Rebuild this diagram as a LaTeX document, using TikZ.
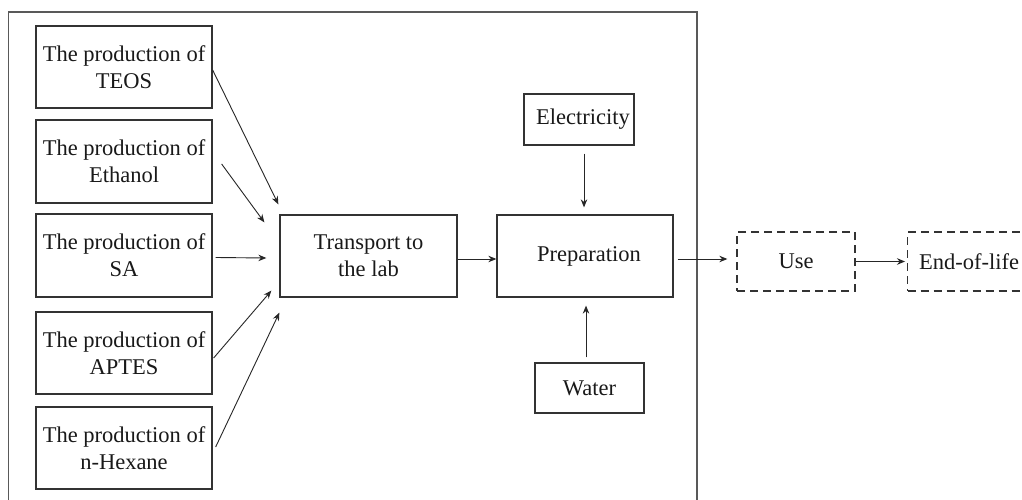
\documentclass[tikz,border=0pt]{standalone}
\usepackage{fontspec}
\setmainfont{Liberation Serif}
\usetikzlibrary{arrows.meta}
\begin{document}
\begin{tikzpicture}[x=1pt,y=-1pt,
  box/.style={draw=black!80,line width=1.3pt,inner sep=0pt,align=center,
    font=\fontsize{22.5}{27}\selectfont,text=black!90},
  dbox/.style={box,dash pattern=on 8pt off 5pt},
  arr/.style={draw=black!85,line width=0.9pt,-{Stealth[length=8pt,width=6.5pt]}}]
\useasboundingbox (0,0) rectangle (1022,500);
\fill[white] (0,0) rectangle (1022,500);
\draw[black!65,line width=1.3pt] (8.5,505) -- (8.5,12) -- (697,12) -- (697,505);
% left boxes
\node[box,minimum width=176pt,minimum height=82pt] (teos) at (124,67) {The production of\\TEOS};
\node[box,minimum width=176pt,minimum height=83pt] (eth) at (124,161.5) {The production of\\Ethanol};
\node[box,minimum width=176pt,minimum height=83pt] (sa) at (124,255.5) {The production of\\SA};
\node[box,minimum width=176pt,minimum height=82pt] (aptes) at (124,353) {The production of\\APTES};
\node[box,minimum width=176pt,minimum height=82pt] (hex) at (124,448) {The production of\\n-Hexane};
% middle
\node[box,minimum width=177pt,minimum height=82pt] (tr) at (368.5,256) {Transport to\\the lab};
\node[box,minimum width=176pt,minimum height=82pt] (prep) at (585,256) {\hspace*{8pt}Preparation};
\node[box,minimum width=110pt,minimum height=51pt] (elec) at (579,119.5) {\hspace*{8pt}Electricity};
\node[box,minimum width=109pt,minimum height=50pt] (water) at (589.5,388) {Water};
% right
\node[dbox,minimum width=118pt,minimum height=59pt] (use) at (796,261.5) {Use};
\node[dbox,minimum width=124pt,minimum height=59pt,anchor=west] (eol) at (907,261.5) {End-of-life\hspace*{1pt}};
% arrows from left boxes
\draw[arr] ([shift={(0,3)}]teos.east) -- ([shift={(-1,-10)}]tr.north west);
\draw[arr] ([shift={(9,2.5)}]eth.east) -- ([shift={(-15,8)}]tr.north west);
\draw[arr] ([shift={(3,2)}]sa.east) -- ([shift={(-13,2)}]tr.west);
\draw[arr] ([shift={(1,5)}]aptes.east) -- ([shift={(-8,-7)}]tr.south west);
\draw[arr] ([shift={(3,-1)}]hex.east) -- ([shift={(0,15)}]tr.south west);
% main chain
\draw[arr] ([yshift=-3pt]tr.east) -- ([yshift=-3pt]prep.west);
\draw[arr,shorten <=8pt,shorten >=7pt] ([xshift=5pt]elec.south) -- ([xshift=5pt]elec.south |- prep.north);
\draw[arr,shorten <=5pt,shorten >=8pt] ([xshift=-3.5pt]water.north) -- ([xshift=-3.5pt]water.north |- prep.south);
\draw[arr,shorten <=4pt,shorten >=9pt] ([yshift=-3pt]prep.east) -- ([yshift=2.5pt]use.west);
\draw[arr,shorten >=2pt] (use.east) -- (eol.west);
\end{tikzpicture}
\end{document}
